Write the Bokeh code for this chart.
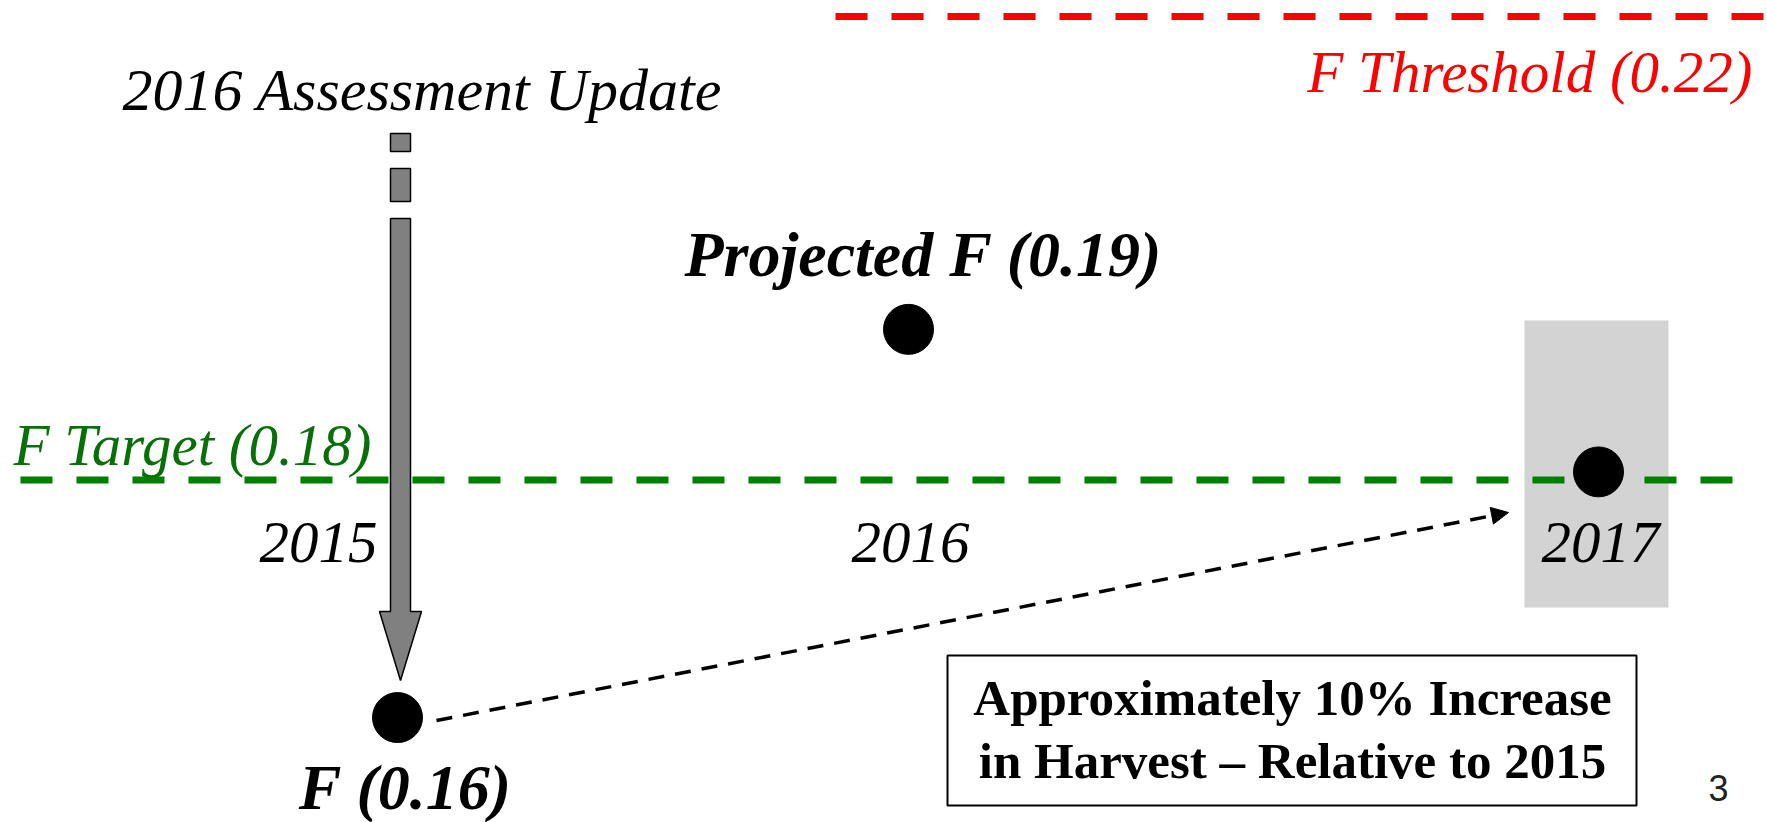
from bokeh.plotting import figure
from bokeh.models import Range1d, Arrow, NormalHead, ColumnDataSource
from bokeh.core.properties import value
from bokeh.embed import file_html
from bokeh.resources import INLINE

# ---------------- data ----------------
years = ["2015", "2016", "2017"]
f_values = [0.1595, 0.193, 0.1807]          # F estimates
point_labels = ["F (0.16)", "Projected F (0.19)", ""]
f_target = 0.18
f_threshold = 0.22
target_label = "F Target (0.18)"
threshold_label = "F Threshold (0.22)"
update_label = "2016 Assessment Update"
box_lines = ["Approximately 10% Increase", "in Harvest \u2013 Relative to 2015"]
page_number = "3"

# ---------------- layout (page pixels) ----------------
W, H = 1767, 822
OX, OY = 0, 0
DY = -18                           # baseline correction for text placement
slot_x = [397, 908, 1598]          # horizontal slots of the three years
year_label_x = [318, 910, 1600]
year_label_y = 560
PX_PER_F = 11587.5

def page_to_f(py):
    return f_target + (479.5 - py) / PX_PER_F

p = figure(width=W, height=H, output_backend="svg", toolbar_location=None,
           x_axis_location=None, y_axis_location=None, min_border=0,
           x_range=Range1d(OX, OX + W),
           y_range=Range1d(page_to_f(OY + H), page_to_f(OY)))
p.extra_y_ranges = {"px": Range1d(OY + H, OY)}
p.outline_line_color = None
p.xgrid.visible = False
p.ygrid.visible = False
p.background_fill_color = "white"
p.border_fill_color = "white"

serif = value("Liberation Serif")

# grey highlight behind 2017
p.quad(left=[slot_x[2] - 74], right=[slot_x[2] + 70], top=[320], bottom=[607],
       fill_color="#d3d3d3", line_color=None, y_range_name="px")

# reference lines
p.line(x=[835, OX + W], y=[f_threshold, f_threshold], line_color="#ff0000",
       line_width=7, line_dash="32 24")
p.line(x=[20, 1732], y=[f_target, f_target], line_color="#008000",
       line_width=7, line_dash="32 24")

# big grey down arrow (assessment update)
ax = slot_x[0] + 3
p.quad(left=[ax - 10, ax - 10], right=[ax + 10, ax + 10], top=[133, 168], bottom=[151, 201],
       fill_color="#808080", line_color="black", line_width=1.5, y_range_name="px")
p.patch(x=[ax - 10, ax + 10, ax + 10, ax + 21, ax, ax - 21, ax - 10],
        y=[218, 218, 611, 611, 680, 611, 611],
        fill_color="#808080", line_color="black", line_width=1.5, y_range_name="px")

# dashed arrow from 2015 point toward 2017
p.add_layout(Arrow(end=NormalHead(size=17, fill_color="black", line_color="black", line_width=1),
                   x_start=436, y_start=720, x_end=1508, y_end=512,
                   line_color="black", line_width=3.5, line_dash="16 11",
                   y_range_name="px"))

# points
src = ColumnDataSource(dict(x=slot_x, f=f_values, year=years))
p.scatter(x="x", y="f", source=src, size=50, marker="circle",
          fill_color="black", line_color="black")

# year labels
p.text(x=year_label_x, y=[year_label_y + DY] * 3, text=years, y_range_name="px",
       text_font=serif, text_font_style="italic", text_font_size="59px",
       text_align="center", text_baseline="alphabetic", text_color="black")

# reference line labels
p.text(x=[1752], y=[89 + DY], text=[threshold_label], y_range_name="px",
       text_font=serif, text_font_style="italic", text_font_size="59px",
       text_align="right", text_baseline="alphabetic", text_color="#ff0000")
p.text(x=[13], y=[462 + DY], text=[target_label], y_range_name="px",
       text_font=serif, text_font_style="italic", text_font_size="59px",
       text_align="left", text_baseline="alphabetic", text_color="#077007")
p.text(x=[122], y=[107 + DY], text=[update_label], y_range_name="px",
       text_font=serif, text_font_style="italic", text_font_size="60px",
       text_align="left", text_baseline="alphabetic", text_color="black")

# point labels
p.text(x=[405, 923], y=[805 + DY, 272 + DY], text=point_labels[:2], y_range_name="px",
       text_font=serif, text_font_style="bold italic", text_font_size="64px",
       text_align="center", text_baseline="alphabetic", text_color="black")

# boxed note
p.quad(left=[947], right=[1636], top=[655], bottom=[805], fill_color="white",
       line_color="black", line_width=2, y_range_name="px")
p.text(x=[1292, 1292], y=[715 + DY, 778 + DY], text=box_lines, y_range_name="px",
       text_font=serif, text_font_style="bold", text_font_size="51px",
       text_align="center", text_baseline="alphabetic", text_color="black")

# page number
p.text(x=[1718], y=[798 + DY * 0.6], text=[page_number], y_range_name="px",
       text_font=value("Liberation Sans"), text_font_size="36px",
       text_align="center", text_baseline="alphabetic", text_color="#222222")

open("out.html", "w").write(file_html(p, INLINE))
